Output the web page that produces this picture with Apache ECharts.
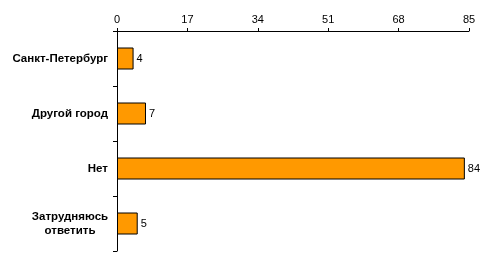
<!DOCTYPE html>
<html><head><meta charset="utf-8">
<script src="https://cdn.jsdelivr.net/npm/echarts@6/dist/echarts.min.js"></script>
<style>html,body{margin:0;padding:0;background:#fff}#c{width:496px;height:258px}</style>
</head><body><div id="c"></div>
<script>
const categories = ["Санкт-Петербург", "Другой город", "Нет", "Затрудняюсь\nответить"];
const values = [4, 7, 84, 5];
const tickMax = 85;
const tickStep = 17;

const chart = echarts.init(document.getElementById('c'), null, {renderer: 'canvas'});
chart.setOption({
  animation: false,
  backgroundColor: '#fff',
  grid: {left: 117, right: 27, top: 31, bottom: 7, containLabel: false},
  xAxis: {
    type: 'value', position: 'top', min: 0, max: tickMax, interval: tickStep,
    axisLine: {show: true, lineStyle: {color: '#000', width: 1}},
    axisTick: {show: true, length: 3, lineStyle: {color: '#000'}},
    axisLabel: {color: '#000', fontFamily: 'Liberation Sans, Arial', fontSize: 11, margin: 6},
    splitLine: {show: false}
  },
  yAxis: {
    type: 'category', data: categories, inverse: true,
    axisLine: {show: true, lineStyle: {color: '#000', width: 1}},
    axisTick: {show: true, length: 4, lineStyle: {color: '#000'}},
    axisLabel: {
      color: '#000', fontFamily: 'Liberation Sans, Arial', fontSize: 11.5, fontWeight: 'bold',
      margin: 9, lineHeight: 14, align: 'right',
      formatter: function (v) {
        if (v.indexOf('\n') < 0) return v;
        return v.split('\n').map(function (l) { return '{c|' + l + '}'; }).join('\n');
      },
      rich: {c: {width: 76, align: 'center', fontFamily: 'Liberation Sans, Arial', fontSize: 11.5, fontWeight: 'bold', color: '#000', lineHeight: 14}}
    }
  },
  series: [{
    type: 'bar', data: values, barWidth: 22,
    itemStyle: {color: '#FF9900', borderColor: '#000', borderWidth: 1},
    label: {show: true, position: 'right', distance: 3, color: '#000', fontFamily: 'Liberation Sans, Arial', fontSize: 11}
  }]
});
</script></body></html>
